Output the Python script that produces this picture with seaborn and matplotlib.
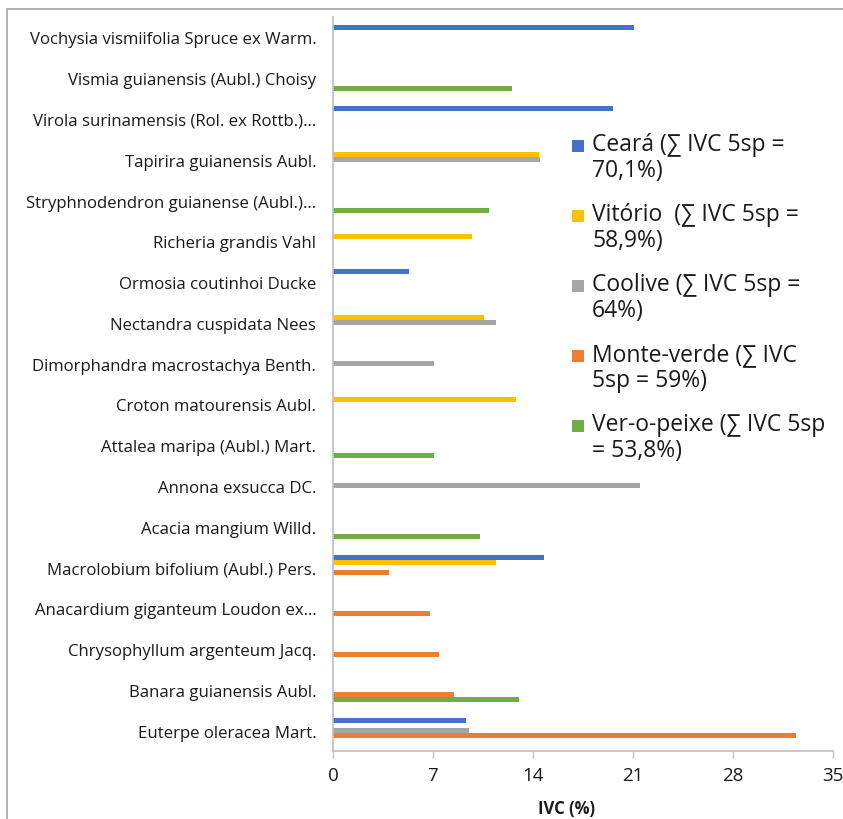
import numpy as np
import pandas as pd
import matplotlib
matplotlib.use("Agg")
import matplotlib.pyplot as plt
from matplotlib.patches import Rectangle
import seaborn as sns

species = [
    "Vochysia vismiifolia Spruce ex Warm.",
    "Vismia guianensis (Aubl.) Choisy",
    "Virola surinamensis (Rol. ex Rottb.)…",
    "Tapirira guianensis Aubl.",
    "Stryphnodendron guianense (Aubl.)…",
    "Richeria grandis Vahl",
    "Ormosia coutinhoi Ducke",
    "Nectandra cuspidata Nees",
    "Dimorphandra macrostachya Benth.",
    "Croton matourensis Aubl.",
    "Attalea maripa (Aubl.) Mart.",
    "Annona exsucca DC.",
    "Acacia mangium Willd.",
    "Macrolobium bifolium (Aubl.) Pers.",
    "Anacardium giganteum Loudon ex…",
    "Chrysophyllum argenteum Jacq.",
    "Banara guianensis Aubl.",
    "Euterpe oleracea Mart.",
]

sites = ["Ceará", "Vitório", "Coolive", "Monte-verde", "Ver-o-peixe"]
legend_labels = [
    "Ceará (∑ IVC 5sp =\n70,1%)",
    "Vitório  (∑ IVC 5sp =\n58,9%)",
    "Coolive (∑ IVC 5sp =\n64%)",
    "Monte-verde (∑ IVC\n5sp = 59%)",
    "Ver-o-peixe (∑ IVC 5sp\n= 53,8%)",
]
colors = ["#4472C4", "#FFC000", "#A5A5A5", "#ED7D31", "#70AD47"]

# IVC (%) per species for each site (0 = species not among the site's top 5)
ceara      = [21.1, 0, 19.6, 0, 0, 0, 5.3, 0, 0, 0, 0, 0, 0, 14.8, 0, 0, 0, 9.3]
vitorio    = [0, 0, 0, 14.4, 0, 9.7, 0, 10.6, 0, 12.8, 0, 0, 0, 11.4, 0, 0, 0, 0]
coolive    = [0, 0, 0, 14.5, 0, 0, 0, 11.4, 7.1, 0, 0, 21.5, 0, 0, 0, 0, 0, 9.5]
monteverde = [0, 0, 0, 0, 0, 0, 0, 0, 0, 0, 0, 0, 0, 3.9, 6.8, 7.4, 8.5, 32.4]
veropeixe  = [0, 12.5, 0, 0, 10.9, 0, 0, 0, 0, 0, 7.1, 0, 10.3, 0, 0, 0, 13.0, 0]

xticks = [0, 7, 14, 21, 28, 35]

rows = []
for site, vals in zip(sites, [ceara, vitorio, coolive, monteverde, veropeixe]):
    for sp, v in zip(species, vals):
        rows.append({"species": sp, "site": site, "ivc": v})
df = pd.DataFrame(rows)

sns.set_theme(style="white")
plt.rcParams["font.family"] = ["Open Sans", "DejaVu Sans"]

W, H = 843, 820
fig = plt.figure(figsize=(W / 100, H / 100), dpi=100)
ax = fig.add_axes([333 / W, 1 - 752 / H, 500 / W, 734 / H])

sns.barplot(
    data=df, y="species", x="ivc", hue="site",
    order=species, hue_order=sites, palette=colors,
    orient="h", width=0.62, linewidth=0, saturation=1,
    errorbar=None, legend=False, ax=ax,
)

ax.set_xlim(0, 35)
ax.set_xticks(xticks)
ax.set_xticklabels([str(t) for t in xticks], fontsize=13.5, color="#1a1a1a")
ax.tick_params(axis="x", length=5, width=1, color="#BFBFBF", pad=6, direction="out", bottom=True)
ax.tick_params(axis="y", length=0, pad=12)
for lab in ax.get_yticklabels():
    lab.set_fontsize(12.1)
    lab.set_color("#1a1a1a")
ax.set_xlabel("")
ax.set_ylabel("")
for side in ["top", "right"]:
    ax.spines[side].set_visible(False)
for side in ["left", "bottom"]:
    ax.spines[side].set_color("#BFBFBF")
    ax.spines[side].set_linewidth(1.2)

fig.text(566 / W, 1 - 809 / H, "IVC (%)", ha="center", va="center",
         fontsize=12, fontweight="bold", color="#1a1a1a")

# legend: square swatch beside the first line of each two-line entry
for i, (lab, c) in enumerate(zip(legend_labels, colors)):
    y_first = 147 + 70 * i
    fig.patches.append(Rectangle((572 / W, 1 - (y_first + 6) / H), 12 / W, 12 / H,
                                 transform=fig.transFigure, facecolor=c,
                                 edgecolor="none"))
    fig.text(592 / W, 1 - (y_first - 14) / H, lab, ha="left", va="top",
             fontsize=16.5, linespacing=1.1, color="#1a1a1a")

# outer frame of the chart area
fig.patches.append(Rectangle((7 / W, -0.05), 1.1, 1 - 10 / H + 0.05,
                             transform=fig.transFigure, fill=False,
                             edgecolor="#A6A6A6", linewidth=1.2))

fig.savefig("out.png", dpi=100)
